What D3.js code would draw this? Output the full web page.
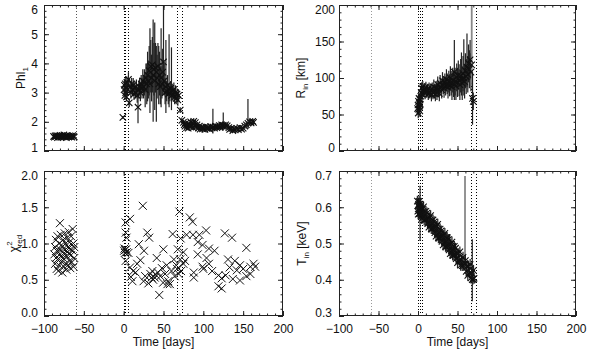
<!DOCTYPE html>
<html>
<head>
<meta charset="utf-8">
<script src="https://cdn.jsdelivr.net/npm/d3@7"></script>
<style>
  body { margin: 0; background: #fff; }
  svg { display: block; font-family: "Liberation Sans", Arial, sans-serif; }
</style>
</head>
<body>
<svg id="chart" width="589" height="351"></svg>
<script>
// time axis
const timeTicks = [-100, -50, 0, 50, 100, 150, 200];
const eventDays = [0, 2, 5, 67, 73];
const earlyDay = -60;

// rows: [day, value, err] or [day, value, low, high, gray?]
const phlData = [
  [-88, 1.50, 0.05], [-87, 1.47, 0.05], [-86, 1.52, 0.05], [-85, 1.49, 0.05], [-84, 1.53, 0.05],
  [-83, 1.46, 0.05], [-82, 1.51, 0.05], [-81, 1.48, 0.05], [-80, 1.54, 0.05], [-79, 1.50, 0.05],
  [-78, 1.47, 0.05], [-77, 1.52, 0.05], [-76, 1.49, 0.05], [-75, 1.55, 0.05], [-74, 1.48, 0.05],
  [-73, 1.51, 0.05], [-72, 1.46, 0.05], [-71, 1.53, 0.05], [-70, 1.50, 0.05], [-69, 1.48, 0.05],
  [-68, 1.52, 0.05], [-67, 1.49, 0.05], [-66, 1.51, 0.05], [-65, 1.47, 0.05], [-64, 1.53, 0.05],
  [-63, 1.50, 0.05], [-62, 1.48, 0.05],
  [-1, 2.15, 0.05],
  [0.5, 3.10, 0.20], [1, 3.25, 0.20], [1.5, 2.90, 0.15], [2, 3.30, 0.20], [2.5, 3.00, 0.15],
  [3, 3.15, 0.20], [3.5, 2.85, 0.15], [4, 3.35, 0.20], [5, 3.10, 0.20], [6, 3.45, 0.25],
  [7, 2.65, 0.15], [8, 3.20, 0.20], [9, 3.00, 0.20], [10, 3.30, 0.20], [11, 3.10, 0.20],
  [12, 3.25, 0.25], [13, 2.95, 0.20], [14, 3.15, 0.25], [15, 3.00, 0.20], [16, 3.20, 0.25],
  [17, 2.90, 0.25], [18, 2.50, 1.95, 3.05], [19, 3.10, 0.30], [20, 3.20, 0.30], [21, 3.00, 0.30],
  [22, 3.30, 0.30], [23, 3.15, 0.35], [24, 3.40, 0.40], [25, 3.20, 0.40], [26, 3.35, 0.45],
  [27, 3.10, 0.60], [28, 3.50, 0.50], [29, 3.30, 2.60, 4.00], [30, 3.60, 2.70, 4.40],
  [31, 3.40, 2.80, 4.10], [32, 3.75, 2.90, 4.60], [33, 3.30, 2.30, 5.20], [34, 3.90, 3.00, 4.80],
  [35, 3.50, 2.70, 4.30], [36, 3.95, 3.00, 4.90], [37, 3.60, 2.00, 5.50], [38, 3.80, 2.90, 4.70],
  [39, 3.40, 2.40, 5.40], [40, 3.85, 3.00, 4.70], [41, 3.70, 2.00, 4.60], [42, 3.50, 2.80, 4.30],
  [43, 3.90, 3.10, 4.70], [44, 3.30, 2.60, 4.60], [45, 3.60, 2.90, 4.40], [46, 3.20, 2.60, 3.90],
  [47, 3.50, 2.50, 5.20], [48, 3.30, 2.80, 3.90], [49, 3.70, 2.90, 4.50], [50, 4.05, 3.00, 6.10],
  [51, 3.40, 2.90, 4.00], [52, 3.00, 2.60, 3.50], [53, 3.20, 2.30, 4.80], [54, 3.05, 0.35],
  [55, 3.25, 0.35], [56, 2.95, 0.35], [57, 3.10, 2.50, 5.00], [58, 3.00, 0.30], [59, 3.15, 0.25],
  [60, 2.90, 2.40, 4.55], [61, 3.05, 0.25], [62, 2.95, 0.25], [63, 3.10, 0.25], [64, 2.85, 0.25],
  [65, 3.00, 0.25], [66, 2.80, 0.20], [67, 2.95, 0.20], [68, 2.75, 0.20], [69, 2.90, 0.20],
  [71, 2.40, 0.10],
  [73, 2.05, 0.10], [75, 1.98, 0.09], [76, 1.90, 0.08], [77, 1.85, 0.08], [78, 1.95, 0.08],
  [79, 1.80, 0.08], [80, 1.88, 0.08], [81, 1.78, 0.08], [82, 1.92, 0.08], [83, 1.84, 0.08],
  [84, 2.00, 0.10], [85, 1.86, 0.08], [86, 1.95, 0.09], [87, 1.80, 0.08], [88, 2.02, 0.10],
  [89, 1.88, 0.08], [90, 1.97, 0.09], [91, 1.82, 0.08], [92, 1.90, 0.08], [94, 1.78, 0.08],
  [95, 1.85, 0.08], [96, 1.75, 0.07], [98, 1.82, 0.08], [99, 1.76, 0.08], [100, 1.80, 0.08],
  [102, 1.74, 0.08], [103, 1.83, 0.08], [105, 1.77, 0.08], [106, 1.81, 0.08], [108, 1.75, 0.08],
  [109, 1.84, 0.08], [111, 1.79, 0.08], [112, 1.82, 1.60, 2.45], [114, 1.78, 0.08], [115, 1.85, 0.08],
  [117, 1.80, 0.08], [118, 1.83, 0.08], [120, 1.87, 0.08], [121, 1.82, 0.08], [123, 1.90, 0.08],
  [124, 1.85, 0.15], [125, 1.88, 1.70, 2.32], [127, 1.84, 0.08], [128, 1.90, 0.08], [130, 1.86, 0.08],
  [132, 1.80, 0.08], [133, 1.74, 0.08], [135, 1.78, 0.08], [137, 1.70, 0.08], [138, 1.76, 0.08],
  [140, 1.72, 0.08], [142, 1.78, 0.08], [144, 1.73, 0.08], [146, 1.80, 0.08], [148, 1.75, 0.08],
  [150, 1.78, 0.08], [152, 1.85, 0.10], [154, 1.90, 0.10], [156, 1.95, 1.75, 2.78], [158, 2.00, 0.10],
  [160, 1.96, 0.10], [162, 2.02, 0.10], [163, 1.98, 0.10]
];

const rinData = [
  [-0.5, 58, 8], [0, 63, 8], [0.3, 52, 7], [0.6, 68, 8], [1, 57, 8], [1.3, 72, 8], [1.6, 61, 8],
  [2, 66, 8], [2.3, 55, 8], [2.6, 70, 8], [3, 64, 8], [3.5, 75, 8], [4, 80, 8], [4.5, 86, 8],
  [5, 78, 8], [6, 88, 8], [7, 82, 8], [8, 85, 8], [9, 79, 8], [10, 87, 8], [11, 81, 8],
  [12, 84, 8], [13, 78, 8], [14, 86, 8], [15, 80, 8], [16, 83, 9], [17, 77, 9], [18, 85, 9],
  [19, 80, 9], [20, 88, 10], [21, 82, 10], [22, 78, 10], [23, 86, 10], [24, 80, 10], [25, 91, 11],
  [26, 85, 11], [27, 79, 11], [28, 93, 11], [29, 88, 12], [30, 84, 12], [31, 96, 12], [32, 90, 12],
  [33, 86, 13], [34, 94, 12], [35, 89, 13], [36, 98, 14], [37, 92, 14], [38, 87, 15], [39, 95, 15],
  [40, 90, 15], [41, 100, 16], [42, 93, 17], [43, 88, 18], [44, 97, 17], [45, 92, 18],
  [46, 108, 70, 152], [47, 95, 19], [48, 89, 19], [49, 101, 19], [50, 94, 20], [51, 104, 20],
  [52, 97, 22], [53, 91, 21], [54, 103, 23], [55, 98, 76, 135], [56, 93, 23], [57, 106, 24],
  [58, 100, 76, 153], [59, 95, 23], [60, 110, 24], [61, 102, 24], [62, 115, 88, 161], [63, 105, 25],
  [64, 120, 26], [65, 112, 26], [66, 125, 27], [67, 108, 26], [68, 118, 92, 205, 1],
  [69, 72, 36, 108], [70, 68, 12]
];

// chi^2_red : [day, value]
const chiData = [
  [-87, 0.85], [-86, 0.95], [-86, 0.72], [-85, 1.05], [-85, 0.80], [-84, 0.90], [-84, 0.65],
  [-83, 1.10], [-83, 0.78], [-82, 0.88], [-82, 0.62], [-81, 1.00], [-81, 0.70], [-80, 1.28],
  [-80, 0.92], [-79, 0.82], [-79, 1.12], [-78, 0.75], [-78, 0.98], [-77, 0.60], [-77, 0.88],
  [-76, 1.05], [-76, 0.80], [-75, 0.93], [-75, 0.68], [-74, 1.14], [-74, 0.85], [-73, 0.72],
  [-73, 1.00], [-72, 0.90], [-72, 0.64], [-71, 1.08], [-71, 0.82], [-70, 0.95], [-70, 0.70],
  [-69, 1.16], [-69, 0.86], [-68, 0.76], [-68, 1.02], [-67, 0.92], [-67, 0.66], [-66, 1.10],
  [-66, 0.84], [-65, 0.98], [-65, 0.74], [-64, 1.20], [-64, 0.90], [-63, 1.00], [-63, 0.68],
  [-62, 0.95], [-62, 0.80],
  [0.5, 0.90], [1, 0.93], [1.5, 0.87], [2, 0.91], [2.5, 1.29], [2.5, 1.15], [3.5, 1.08],
  [3, 0.92], [4, 0.88], [6, 0.87], [2.5, 0.76], [8, 1.34], [8, 0.67], [9, 0.54], [11, 0.48],
  [12, 0.62], [15, 0.60], [17, 0.72], [19, 0.99], [21, 0.77], [24, 1.52], [25.5, 0.90],
  [25, 0.48], [27, 0.55], [29.7, 1.15], [31, 0.45], [32, 1.08], [33.5, 0.58], [35, 0.53],
  [36, 0.62], [37, 0.50], [39, 0.53], [40, 0.57], [41.5, 0.80], [43, 0.60], [44.7, 0.29],
  [46, 0.55], [48, 0.66], [49.5, 0.46], [49.8, 0.92], [52, 0.58], [54, 0.70], [55, 0.44],
  [56, 0.48], [58, 0.44], [60, 0.62], [61.5, 1.13], [63, 0.78], [64, 0.55], [66, 0.70],
  [67, 0.65], [68, 0.92], [69, 0.58], [70, 1.44], [71, 0.78], [71.5, 1.07], [72, 0.62],
  [75, 0.88], [75, 0.72], [77, 0.76], [79, 1.12], [83, 1.36], [86.5, 1.30], [87, 1.12],
  [88, 0.60], [88, 0.53], [93, 1.02], [93, 0.85], [95, 1.12], [99, 0.98], [99, 0.68],
  [100, 0.65], [103.5, 1.18], [104, 0.80], [107, 0.93], [107, 0.72], [111, 0.62], [114, 0.90],
  [119, 0.56], [119, 0.41], [123, 0.38], [123, 0.52], [127, 1.14], [128, 0.56], [131, 0.78],
  [133, 0.67], [136, 1.08], [137, 0.51], [139.5, 0.76], [142, 0.63], [146, 0.70], [146, 0.49],
  [150, 0.65], [154, 0.94], [154, 0.55], [159, 0.68], [159, 0.58], [163, 0.72], [165, 0.68]
];

const tinData = [
  [-0.8, 0.617, 0.015], [-0.3, 0.589, 0.015], [0, 0.604, 0.015], [0.3, 0.581, 0.015],
  [0.6, 0.608, 0.015], [1, 0.591, 0.015], [1.3, 0.616, 0.015], [1.6, 0.582, 0.015],
  [2, 0.597, 0.015], [2.3, 0.584, 0.015], [2.6, 0.609, 0.507, 0.659], [3, 0.588, 0.015],
  [3.4, 0.606, 0.015], [3.8, 0.578, 0.015], [4.2, 0.593, 0.015], [4.8, 0.569, 0.015],
  [5.5, 0.595, 0.015], [6.2, 0.577, 0.015], [7, 0.601, 0.015], [7.8, 0.565, 0.015],
  [8.5, 0.579, 0.015], [9.2, 0.565, 0.015], [10, 0.589, 0.015], [10.8, 0.567, 0.015],
  [11.5, 0.584, 0.015], [12.3, 0.555, 0.015], [13, 0.569, 0.015], [13.8, 0.545, 0.015],
  [14.5, 0.571, 0.015], [15.3, 0.553, 0.015], [16, 0.577, 0.015], [16.8, 0.541, 0.015],
  [17.5, 0.555, 0.015], [18.3, 0.541, 0.015], [19, 0.565, 0.015], [19.8, 0.543, 0.015],
  [20.5, 0.560, 0.015], [21.3, 0.530, 0.015], [22, 0.545, 0.015], [22.8, 0.520, 0.015],
  [23.5, 0.547, 0.015], [24.3, 0.528, 0.015], [25, 0.553, 0.015], [25.8, 0.516, 0.015],
  [26.5, 0.530, 0.015], [27.3, 0.516, 0.015], [28, 0.540, 0.015], [28.8, 0.518, 0.015],
  [29.5, 0.535, 0.015], [30.3, 0.506, 0.015], [31, 0.520, 0.015], [31.8, 0.496, 0.015],
  [32.5, 0.522, 0.015], [33.3, 0.504, 0.015], [34, 0.528, 0.015], [34.8, 0.492, 0.015],
  [35.5, 0.506, 0.025], [36.3, 0.492, 0.015], [37, 0.516, 0.015], [37.8, 0.494, 0.015],
  [38.5, 0.511, 0.015], [39.3, 0.482, 0.015], [40, 0.496, 0.030], [40.8, 0.472, 0.015],
  [41.5, 0.498, 0.015], [42.3, 0.480, 0.015], [43, 0.504, 0.015], [43.8, 0.468, 0.015],
  [44.5, 0.482, 0.015], [45.3, 0.468, 0.015], [46, 0.492, 0.015], [46.8, 0.470, 0.015],
  [47.5, 0.487, 0.015], [48.3, 0.458, 0.015], [49, 0.472, 0.015], [50, 0.447, 0.015],
  [51, 0.472, 0.015], [52, 0.454, 0.015], [53, 0.477, 0.015], [54, 0.440, 0.015],
  [55, 0.454, 0.015], [56, 0.439, 0.015], [57, 0.462, 0.015], [58, 0.439, 0.015],
  [59.5, 0.445, 0.433, 0.686, 1], [60, 0.453, 0.015], [61, 0.423, 0.015], [62, 0.437, 0.015],
  [63, 0.412, 0.015], [64, 0.437, 0.015], [65, 0.419, 0.015], [66, 0.442, 0.015],
  [67, 0.405, 0.015], [68, 0.418, 0.015], [68.7, 0.400, 0.341, 0.512], [69.5, 0.402, 0.015],
  [70.3, 0.426, 0.015], [71, 0.404, 0.015]
];

const svg = d3.select('#chart');
const lowOf = (d) => d.length > 3 ? d[2] : d[1] - d[2];
const highOf = (d) => d.length > 3 ? d[3] : d[1] + d[2];

function drawPanel(opt) {
  const x = d3.scaleLinear().domain([-100, 200]).range([opt.x0, opt.x1]);
  const y = d3.scaleLinear().domain(opt.yDomain).range([opt.y1, opt.y0]);
  const g = svg.append('g');

  const clipId = 'clip-' + opt.id;
  svg.append('clipPath').attr('id', clipId).append('rect')
    .attr('x', opt.x0).attr('y', opt.y0)
    .attr('width', opt.x1 - opt.x0).attr('height', opt.y1 - opt.y0);
  const plot = g.append('g').attr('clip-path', `url(#${clipId})`);

  // event markers
  plot.append('line')
    .attr('x1', Math.round(x(earlyDay)) + 0.5).attr('x2', Math.round(x(earlyDay)) + 0.5)
    .attr('y1', opt.y0).attr('y2', opt.y1)
    .attr('stroke', opt.earlyColor).attr('stroke-dasharray', '1,2');
  plot.selectAll('line.ev').data(eventDays).join('line')
    .attr('class', 'ev')
    .attr('x1', (d) => Math.round(x(d)) + 0.5).attr('x2', (d) => Math.round(x(d)) + 0.5)
    .attr('y1', opt.y0).attr('y2', opt.y1)
    .attr('stroke', '#000').attr('stroke-dasharray', '1,2');

  // error bars
  if (opt.errors) {
    plot.selectAll('line.err').data(opt.data).join('line')
      .attr('class', 'err')
      .attr('x1', (d) => x(d[0])).attr('x2', (d) => x(d[0]))
      .attr('y1', (d) => y(lowOf(d))).attr('y2', (d) => y(highOf(d)))
      .attr('stroke', (d) => d[4] ? '#888' : '#222')
      .attr('stroke-width', (d) => d[4] ? 1.8 : 1.2);
  }

  // X symbols
  const s = opt.sym;
  plot.selectAll('path.sym').data(opt.data).join('path')
    .attr('class', 'sym')
    .attr('transform', (d) => `translate(${x(d[0])},${y(d[1])})`)
    .attr('d', `M${-s},${-s}L${s},${s}M${-s},${s}L${s},${-s}`)
    .attr('stroke', '#111').attr('stroke-width', opt.symWidth).attr('fill', 'none');

  // axes, ticks inward on all four sides
  const ax = g.append('g');
  const xMinor = d3.range(-100, 201, 10);
  const yMinor = d3.range(opt.yDomain[0], opt.yDomain[1] + opt.yMinor / 2, opt.yMinor);

  ax.append('g').attr('transform', `translate(0,${opt.y1})`)
    .call(d3.axisBottom(x).tickValues(timeTicks).tickSize(-5).tickSizeOuter(0).tickPadding(8)
      .tickFormat(opt.xLabels ? d3.format('d') : ''));
  ax.append('g').attr('transform', `translate(0,${opt.y1})`)
    .call(d3.axisBottom(x).tickValues(xMinor).tickSize(-2.5).tickSizeOuter(0).tickFormat(''));
  ax.append('g').attr('transform', `translate(0,${opt.y0})`)
    .call(d3.axisTop(x).tickValues(timeTicks).tickSize(-5).tickSizeOuter(0).tickFormat(''));
  ax.append('g').attr('transform', `translate(0,${opt.y0})`)
    .call(d3.axisTop(x).tickValues(xMinor).tickSize(-2.5).tickSizeOuter(0).tickFormat(''));

  const left = ax.append('g').attr('transform', `translate(${opt.x0},0)`)
    .call(d3.axisLeft(y).tickValues(opt.yTicks).tickSize(-5).tickSizeOuter(0).tickPadding(opt.yPad)
      .tickFormat(d3.format(opt.yFormat)));
  ax.append('g').attr('transform', `translate(${opt.x0},0)`)
    .call(d3.axisLeft(y).tickValues(yMinor).tickSize(-2.5).tickSizeOuter(0).tickFormat(''));
  ax.append('g').attr('transform', `translate(${opt.x1},0)`)
    .call(d3.axisRight(y).tickValues(opt.yTicks).tickSize(-5).tickSizeOuter(0).tickFormat(''));
  ax.append('g').attr('transform', `translate(${opt.x1},0)`)
    .call(d3.axisRight(y).tickValues(yMinor).tickSize(-2.5).tickSizeOuter(0).tickFormat(''));

  // end labels sit inside the frame height, as in the original
  const [lo, hi] = opt.yDomain;
  left.selectAll('.tick text')
    .attr('dy', (d) => d === hi ? '0.68em' : d === lo ? '0.0em' : '0.32em');

  ax.selectAll('.domain').remove();
  ax.selectAll('.tick line').attr('stroke', '#222');
  ax.selectAll('.tick text')
    .attr('font-family', '"Liberation Sans", Arial, sans-serif')
    .attr('font-size', 12).attr('fill', '#111');

  g.append('rect')
    .attr('x', opt.x0 + 0.5).attr('y', opt.y0 + 0.5)
    .attr('width', opt.x1 - opt.x0 - 1).attr('height', opt.y1 - opt.y0 - 1)
    .attr('fill', 'none').attr('stroke', '#222');

  // y title
  const cy = (opt.y0 + opt.y1) / 2;
  const t = g.append('text')
    .attr('transform', `translate(${opt.labelX},${cy}) rotate(-90)`)
    .attr('text-anchor', 'middle').attr('font-size', 12).attr('fill', '#111');
  opt.title(t);

  if (opt.xLabels) {
    g.append('text')
      .attr('x', (opt.x0 + opt.x1) / 2).attr('y', 346)
      .attr('text-anchor', 'middle').attr('font-size', 12).attr('fill', '#111')
      .text('Time [days]');
  }
}

drawPanel({
  id: 'phl', x0: 44, x1: 283, y0: 5, y1: 151, yDomain: [1, 6], yTicks: [1, 2, 3, 4, 5, 6],
  yMinor: 0.2, yFormat: 'd', yPad: 6, sym: 3.2, symWidth: 1.1, errors: true, data: phlData,
  xLabels: false, earlyColor: '#555', labelX: 25,
  title: (t) => { t.append('tspan').text('Phl'); t.append('tspan').attr('font-size', 8).attr('dy', 3).text('1'); }
});
drawPanel({
  id: 'rin', x0: 339, x1: 576, y0: 5, y1: 151, yDomain: [0, 200], yTicks: [0, 50, 100, 150, 200],
  yMinor: 10, yFormat: 'd', yPad: 4, sym: 3.2, symWidth: 1.1, errors: true, data: rinData,
  xLabels: false, earlyColor: '#999', labelX: 305,
  title: (t) => {
    t.append('tspan').text('R');
    t.append('tspan').attr('font-size', 8).attr('dy', 3).text('in');
    t.append('tspan').attr('dy', -3).text(' [km]');
  }
});
drawPanel({
  id: 'chi', x0: 44, x1: 283, y0: 171, y1: 316, yDomain: [0, 2], yTicks: [0, 0.5, 1, 1.5, 2],
  yMinor: 0.1, yFormat: '.1f', yPad: 6, sym: 4, symWidth: 1, errors: false, data: chiData,
  xLabels: true, earlyColor: '#555', labelX: 18,
  title: (t) => {
    t.append('tspan').text('\u03c7');
    t.append('tspan').attr('font-size', 8).attr('dy', -6).text('2');
    t.append('tspan').attr('font-size', 8).attr('dx', -5).attr('dy', 10).text('red');
  }
});
drawPanel({
  id: 'tin', x0: 339, x1: 576, y0: 171, y1: 316, yDomain: [0.3, 0.7], yTicks: [0.3, 0.4, 0.5, 0.6, 0.7],
  yMinor: 0.02, yFormat: '.1f', yPad: 7, sym: 3.2, symWidth: 1.1, errors: true, data: tinData,
  xLabels: true, earlyColor: '#999', labelX: 306,
  title: (t) => {
    t.append('tspan').text('T');
    t.append('tspan').attr('font-size', 8).attr('dy', 3).text('in');
    t.append('tspan').attr('dy', -3).text(' [keV]');
  }
});
</script>
</body>
</html>
